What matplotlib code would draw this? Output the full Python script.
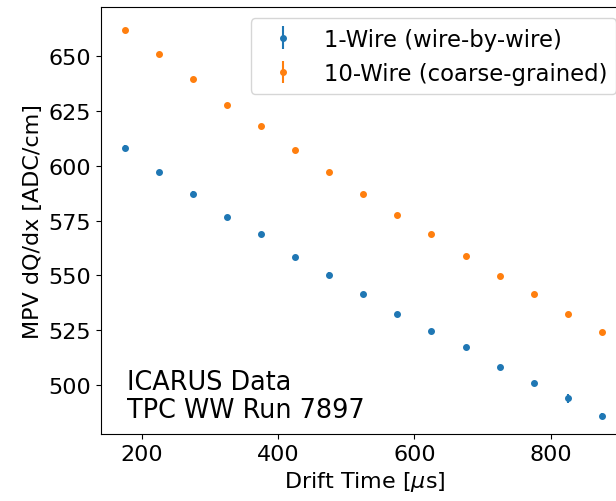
import numpy as np
import matplotlib.pyplot as plt

# drift time bins (us)
drift_time = np.array([175, 225, 275, 325, 375, 425, 475, 525, 575, 625, 675, 725, 775, 825, 875])

# MPV dQ/dx, 1-wire
mpv_1wire = np.array([608.2, 597.1, 587.1, 576.6, 568.9, 558.4, 550.1, 541.4, 532.6, 524.6,
                      517.2, 508.3, 500.8, 493.9, 485.9])
err_1wire = np.array([1.0, 0.8, 1.2, 0.8, 0.8, 0.8, 1.5, 0.9, 0.9, 0.8, 1.0, 0.8, 1.0, 2.0, 1.2])

# MPV dQ/dx, 10-wire
mpv_10wire = np.array([661.8, 650.9, 639.3, 627.5, 618.1, 607.1, 597.0, 587.3, 577.7, 568.8,
                       558.9, 549.8, 541.6, 532.3, 524.1])
err_10wire = np.array([0.8, 0.7, 0.7, 0.7, 0.7, 0.7, 0.7, 0.7, 0.7, 0.7, 0.8, 0.8, 0.8, 0.8, 0.9])

plt.rcParams['font.size'] = 16

fig = plt.figure(figsize=(6.16, 5.02), dpi=100)
ax = fig.add_axes([0.164, 0.1335, 0.855, 0.8505])

ax.errorbar(drift_time, mpv_1wire, yerr=err_1wire, fmt='.', color='#1f77b4',
            markersize=8, label='1-Wire (wire-by-wire)')
ax.errorbar(drift_time, mpv_10wire, yerr=err_10wire, fmt='.', color='#ff7f0e',
            markersize=8, label='10-Wire (coarse-grained)')

ax.set_xlim(140, 913)
ax.set_ylim(477.7, 672.3)
ax.set_xticks([200, 400, 600, 800])
ax.set_yticks([500, 525, 550, 575, 600, 625, 650])
ax.set_xlabel(r'Drift Time [$\mu$s]')
ax.set_ylabel('MPV dQ/dx [ADC/cm]')

ax.text(0.05, 0.026, 'ICARUS Data\nTPC WW Run 7897', transform=ax.transAxes,
        fontsize=18.4, linespacing=1.1, ha='left', va='bottom')
ax.legend(loc='upper right', fontsize=16.4)

fig.savefig('out.png', dpi=100)
